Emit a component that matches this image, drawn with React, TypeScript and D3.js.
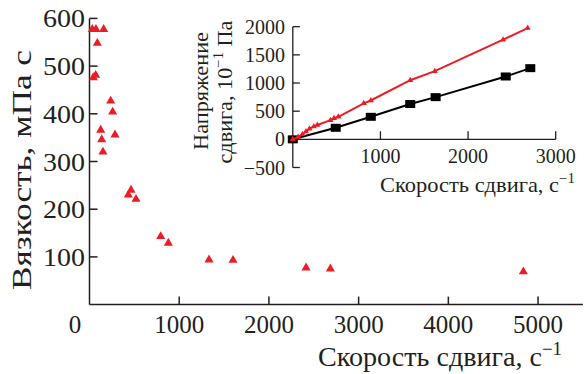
import * as d3 from 'd3';

// main plot: viscosity vs shear rate
const rate = [31, 72, 158, 87, 42, 69, 236, 258, 125, 136, 150, 284, 433, 463, 518, 794, 879, 1332, 1600, 2414, 2685, 4836];
const viscosity = [577, 577, 577, 548, 476, 481, 427, 404, 366, 346, 320, 356, 230, 240, 221, 143, 129, 94, 93, 77, 75, 69];

// inset: shear stress vs shear rate
const redRate = [0, 60, 110, 150, 190, 240, 280, 430, 470, 520, 810, 890, 1340, 1620, 2400, 2680];
const redStress = [0, 40, 90, 140, 190, 230, 255, 340, 375, 400, 640, 690, 1050, 1210, 1770, 1975];
const blackRate = [0, 490, 890, 1340, 1630, 2430, 2710];
const blackStress = [0, 205, 400, 627, 749, 1116, 1264];

const mainXTicks = [1000, 2000, 3000, 4000, 5000];
const mainYTicks = [100, 200, 300, 400, 500, 600];
const insetXTicks = [1000, 2000, 3000];
const insetYTicks = [-500, 0, 500, 1000, 1500, 2000];

const RED = '#ec1c24';
const AXIS = '#231f20';
const FONT = '"Liberation Serif", "Times New Roman", serif';

export default function App() {
  const width = 584;
  const height = 374;

  const x = d3.scaleLinear().domain([0, 5500]).range([89.5, 582.9]);
  const y = d3.scaleLinear().domain([0, 600]).range([304.6, 18.4]);

  const xi = d3.scaleLinear().domain([0, 3000]).range([292.8, 555.7]);
  const yi = d3.scaleLinear().domain([-500, 2000]).range([167.5, 26.7]);

  const bigTri = d3.symbol(d3.symbolTriangle, 36)();
  const smallTri = d3.symbol(d3.symbolTriangle, 16)();

  const redPath = d3
    .line<number>()
    .x((d, i) => xi(redRate[i]))
    .y((d) => yi(d))(redStress);
  const blackPath = d3
    .line<number>()
    .x((d, i) => xi(blackRate[i]))
    .y((d) => yi(d))(blackStress);

  return (
    <svg
      width={width}
      height={height}
      style={{ position: 'absolute', left: 0, top: 0, background: '#fff' }}
      fontFamily={FONT}
      fill={AXIS}
    >
      {/* main axes */}
      <line x1={x(0)} x2={x(0)} y1={y(0)} y2={y(600)} stroke={AXIS} strokeWidth={1.5} />
      <line x1={x(0)} x2={x(5500)} y1={y(0)} y2={y(0)} stroke={AXIS} strokeWidth={1.5} />
      {mainYTicks.map((t) => (
        <g key={'my' + t}>
          <line x1={x(0)} x2={x(0) + 8} y1={y(t)} y2={y(t)} stroke={AXIS} strokeWidth={1.5} />
          <text x={85} y={y(t) + 9} textAnchor="end" fontSize={25} textLength={42} lengthAdjust="spacingAndGlyphs">
            {t}
          </text>
        </g>
      ))}
      {mainXTicks.map((t) => (
        <g key={'mx' + t}>
          <line x1={x(t)} x2={x(t)} y1={y(0)} y2={y(0) - 8} stroke={AXIS} strokeWidth={1.5} />
          <text x={x(t)} y={333} textAnchor="middle" fontSize={25}>
            {t}
          </text>
        </g>
      ))}
      <text x={75} y={333} textAnchor="middle" fontSize={25}>
        0
      </text>
      <text x={318} y={366} fontSize={27} textLength={244} lengthAdjust="spacingAndGlyphs">
        Скорость сдвига, с
        <tspan fontSize={18} dy={-11}>
          −1
        </tspan>
      </text>
      <text
        transform="translate(31,170) rotate(-90)"
        textAnchor="middle"
        fontSize={27}
        textLength={240}
        lengthAdjust="spacingAndGlyphs"
      >
        Вязкость, мПа с
      </text>

      {rate.map((r, i) => (
        <path key={'m' + i} d={bigTri} transform={`translate(${x(r)},${y(viscosity[i])})`} fill={RED} />
      ))}

      {/* inset */}
      <line x1={xi(0)} x2={xi(0)} y1={yi(-500)} y2={yi(2000)} stroke={AXIS} strokeWidth={1.3} />
      <line x1={xi(0)} x2={xi(3000)} y1={yi(0)} y2={yi(0)} stroke={AXIS} strokeWidth={1.3} />
      {insetYTicks.map((t) => (
        <g key={'iy' + t}>
          <line x1={xi(0)} x2={xi(0) + 7} y1={yi(t)} y2={yi(t)} stroke={AXIS} strokeWidth={1.3} />
          <text x={285} y={yi(t) + 7} textAnchor="end" fontSize={20}>
            {t < 0 ? '−' + Math.abs(t) : t}
          </text>
        </g>
      ))}
      {insetXTicks.map((t) => (
        <g key={'ix' + t}>
          <line x1={xi(t)} x2={xi(t)} y1={yi(0)} y2={yi(0) - 8} stroke={AXIS} strokeWidth={1.3} />
          <text x={xi(t)} y={163} textAnchor="middle" fontSize={20}>
            {t}
          </text>
        </g>
      ))}
      <text x={380} y={192} fontSize={21} textLength={195} lengthAdjust="spacingAndGlyphs">
        Скорость сдвига, с
        <tspan fontSize={14} dy={-9}>
          −1
        </tspan>
      </text>
      <text
        transform="translate(208,91) rotate(-90)"
        textAnchor="middle"
        fontSize={21}
        textLength={118}
        lengthAdjust="spacingAndGlyphs"
      >
        Напряжение
      </text>
      <text
        transform="translate(232,92) rotate(-90)"
        textAnchor="middle"
        fontSize={21}
        textLength={143}
        lengthAdjust="spacingAndGlyphs"
      >
        сдвига, 10
        <tspan fontSize={14} dy={-9}>
          −1
        </tspan>
        <tspan dy={9}> Па</tspan>
      </text>

      <path d={blackPath ?? ''} fill="none" stroke="#000" strokeWidth={2} />
      {blackRate.map((r, i) => (
        <rect key={'b' + i} x={xi(r) - 5} y={yi(blackStress[i]) - 4} width={10} height={8} fill="#000" />
      ))}
      <path d={redPath ?? ''} fill="none" stroke={RED} strokeWidth={2} />
      {redRate.map((r, i) => (
        <path key={'r' + i} d={smallTri} transform={`translate(${xi(r)},${yi(redStress[i])})`} fill={RED} />
      ))}
    </svg>
  );
}
